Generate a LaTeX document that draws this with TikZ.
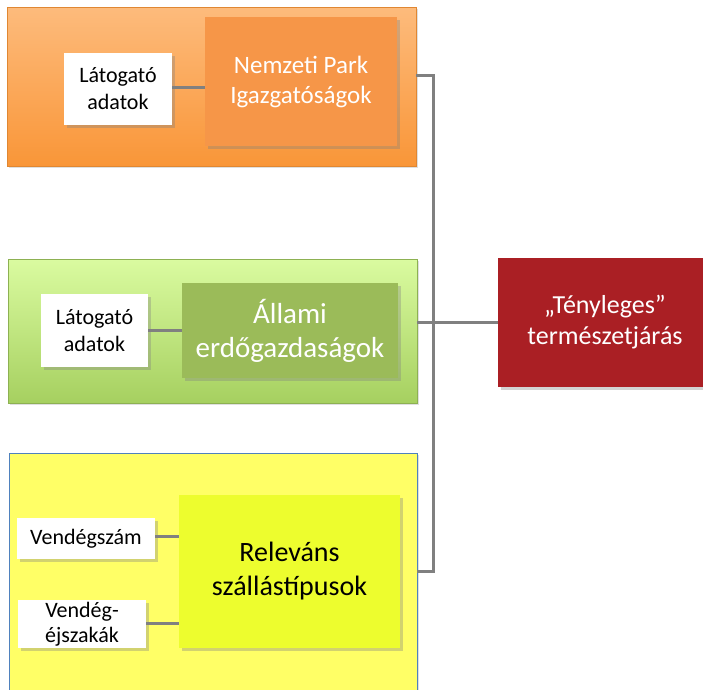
\documentclass[tikz,border=0pt]{standalone}
\usepackage{fontspec}
\setmainfont{Carlito}
\usepackage{xcolor}
\usepackage{tikz}
\usetikzlibrary{shadows}
\definecolor{npLight}{RGB}{253,187,124}
\definecolor{npDark}{RGB}{249,150,56}
\definecolor{npInner}{RGB}{246,150,72}
\definecolor{erLight}{RGB}{218,251,160}
\definecolor{erDark}{RGB}{166,208,96}
\definecolor{erInner}{RGB}{155,187,89}
\definecolor{szOuter}{RGB}{255,255,102}
\definecolor{szInner}{RGB}{237,253,46}
\definecolor{szBorder}{RGB}{79,129,189}
\definecolor{resRed}{RGB}{170,31,36}
\definecolor{lineGray}{RGB}{128,128,128}
\tikzstyle{bGroup} = [rectangle, inner sep=0pt, drop shadow={shadow xshift=1.5pt, shadow yshift=-1.5pt, opacity=0.25}]
\tikzstyle{bSource} = [rectangle, inner sep=0pt, align=center, drop shadow={shadow xshift=2.5pt, shadow yshift=-2.5pt, opacity=0.35}]
\tikzstyle{bData} = [rectangle, inner sep=0pt, align=center, fill=white, font=\fontsize{22}{27}\selectfont, drop shadow={shadow xshift=2.5pt, shadow yshift=-2.5pt, opacity=0.35}]
\tikzstyle{bResult} = [rectangle, inner sep=0pt, align=center, fill=resRed, text=white, font=\fontsize{26}{31}\selectfont, drop shadow={shadow xshift=2.5pt, shadow yshift=-2.5pt, opacity=0.35}]
\tikzstyle{bLine} = [line width=3pt, draw=lineGray]
\begin{document}
\begin{tikzpicture}[x=1pt, y=-1pt]
    \useasboundingbox (0,0) rectangle (703,689);
    \node (npOuter) [bGroup, minimum width=409pt, minimum height=159pt, top color=npLight, bottom color=npDark, draw=npDark!90!black] at (211.5,86.5) {};
    \node (erOuter) [bGroup, minimum width=409pt, minimum height=144pt, top color=erLight, bottom color=erDark, draw=erDark!85!black] at (212.5,331) {};
    \node (szOuter) [bGroup, minimum width=408pt, minimum height=260pt, fill=szOuter, draw=szBorder, line width=0.8pt] at (213,583) {};
    \node (npSource) [bSource, minimum width=192pt, minimum height=129pt, fill=npInner, text=white, font=\fontsize{25}{30}\selectfont] at (301,81.5) {Nemzeti Park\\Igazgatóságok};
    \node (npData) [bData, minimum width=108pt, minimum height=72pt] at (118,89) {Látogató\\adatok};
    \node (erSource) [bSource, minimum width=216pt, minimum height=95pt, fill=erInner, text=white, font=\fontsize{29}{34}\selectfont] at (290,330.5) {Állami\\erdőgazdaságok};
    \node (erData) [bData, minimum width=107pt, minimum height=73pt] at (94.5,330.5) {Látogató\\adatok};
    \node (szSource) [bSource, minimum width=221pt, minimum height=153pt, fill=szInner, font=\fontsize{28}{34}\selectfont] at (289.5,571.5) {Releváns\\szállástípusok};
    \node (szGuests) [bData, minimum width=138pt, minimum height=41pt] at (86,538.5) {Vendégszám};
    \node (szNights) [bData, minimum width=128pt, minimum height=48pt, font=\fontsize{22}{25}\selectfont] at (82,624) {Vendég-\\éjszakák};
    \node (result) [bResult, minimum width=214pt, minimum height=129pt] at (605,322.5) {„Tényleges”\\természetjárás};
    \coordinate (bus) at (433,322.5);

    \draw [bLine] (npData.east |- 0,87) -- (npSource.west |- 0,87);
    \draw [bLine] (erData) -- (erSource);
    \draw [bLine] (szGuests.east |- 0,536) -- (szSource.west |- 0,536);
    \draw [bLine] (szNights.east |- 0,623) -- (szSource.west |- 0,623);
    \draw [bLine] ([yshift=11.5pt]npOuter.east) -| (bus);
    \draw [bLine] ([yshift=8.5pt]erOuter.east) -- (bus);
    \draw [bLine] (szOuter.east |- szSource.east) -| (bus);
    \draw [bLine] (bus) -- (result);
\end{tikzpicture}
\end{document}
